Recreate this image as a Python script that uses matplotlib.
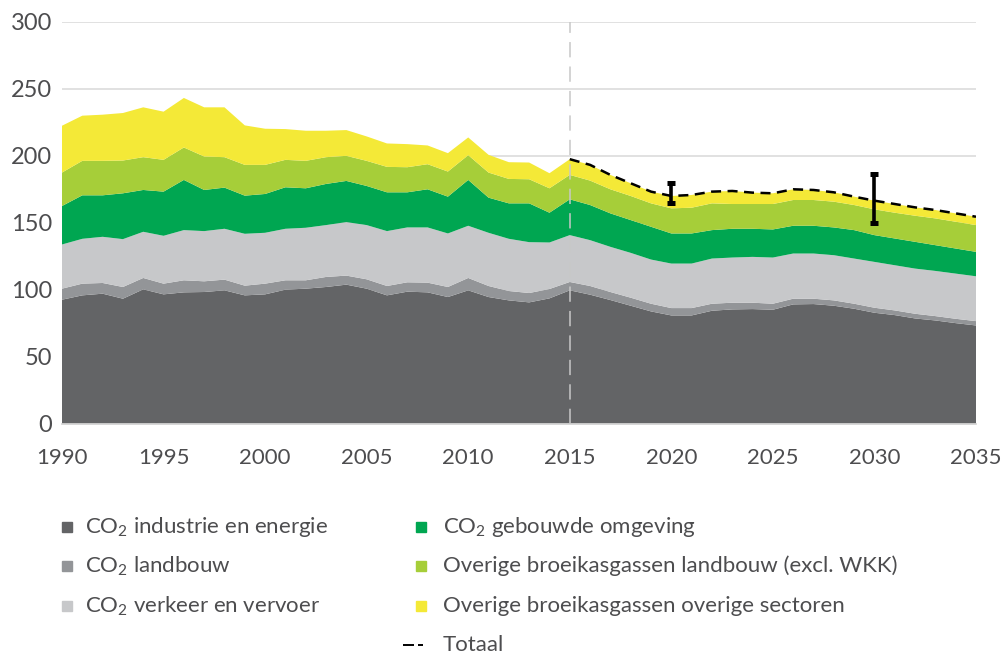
import matplotlib
matplotlib.use("Agg")
import matplotlib.pyplot as plt
from matplotlib.lines import Line2D
import numpy as np

plt.rcParams['font.family'] = ['Lato', 'DejaVu Sans']
plt.rcParams['mathtext.fontset'] = 'custom'
plt.rcParams['mathtext.rm'] = 'Lato'
plt.rcParams['mathtext.default'] = 'regular'

years = list(range(1990, 2036))

co2_industrie = [92.5, 95.75, 97, 93.25, 100.25, 96.5, 98, 98.25, 99.5, 95.75,
                 96.5, 100, 100.75, 102, 103.75, 100.75, 95.75, 98.5, 98, 94.5,
                 99.5, 94.5, 92, 90.5, 93.5, 99.5,
                 96.25, 92.25, 88, 83.75, 80.75, 80.75, 84.25, 85.25, 85.5, 85,
                 89, 89.25, 88, 85.75, 82.75, 81, 78.5, 77, 75, 73.25]
co2_landbouw = [8.25, 8.75, 8, 8.75, 8.5, 8, 9, 8, 8, 7.25,
                8, 7, 6.25, 7.5, 6.75, 7, 7, 7, 7.25, 7.5,
                9.25, 8.25, 7, 7, 7, 6.25,
                6.5, 6, 6, 5.75, 5.5, 5.5, 5.25, 5, 4.75, 4.5,
                4.25, 4, 4, 3.75, 3.75, 3.5, 3.5, 3.25, 3.25, 3.25]
co2_verkeer = [33, 33.5, 34.5, 35.75, 34.5, 35.75, 37.5, 37.5, 38, 38.75,
               38, 38.5, 39.25, 38.75, 40, 40.5, 41, 41, 41.25, 40,
               39, 39.75, 39, 38, 34.75, 35,
               34.25, 33.75, 33.5, 33, 33.25, 33.25, 33.75, 33.75, 34.25, 34.5,
               33.75, 33.75, 33.75, 33.75, 34.25, 33.75, 33.75, 33.75, 33.75, 33.5]
co2_gebouwd = [28.75, 32.5, 31, 34.25, 31.25, 33, 37.5, 30.75, 30.75, 28.5,
               29, 31, 29.5, 30.75, 30.75, 29.25, 29, 26.25, 28.5, 27.5,
               34.25, 26.25, 26.5, 29, 22.25, 26.75,
               26.25, 25, 24.5, 24.5, 22.5, 22.5, 21.25, 21.5, 21, 21,
               20.75, 20.75, 20.75, 21.25, 20, 20, 20, 19.25, 18.75, 18.25]
overig_landbouw = [25, 25.75, 25.75, 24.5, 24.5, 23.75, 24.25, 25, 22.75, 23,
                   21.75, 20.5, 20.5, 20, 18.75, 18.75, 19, 18.75, 18.75, 18.75,
                   18.5, 18.75, 18.25, 18, 18.25, 18.25,
                   18.25, 18, 18, 17.5, 18.75, 19.25, 20, 18.5, 18.5, 19,
                   19.25, 19.25, 19.25, 18.75, 19.25, 19.25, 19.5, 20, 20, 20]
overig_sectoren = [35, 33.75, 34.5, 35.5, 37.25, 36, 37, 36.75, 37.25, 29.5,
                   27, 23, 22.5, 19.75, 19.25, 18.25, 17.5, 17.25, 14, 13.75,
                   13.25, 13.25, 12.5, 12.5, 11.25, 11.75,
                   11.75, 10.75, 9.5, 8.75, 9.25, 9.5, 8.75, 9.75, 8.5, 8,
                   8, 7.5, 7, 6.25, 6.5, 6.5, 6.25, 6.25, 6.25, 6.25]

totaal_start = 2015
err_years = [2020, 2030]
err_low = [164.5, 149.5]
err_high = [179.5, 186.5]

labels = ['CO$_2$ industrie en energie', 'CO$_2$ landbouw', 'CO$_2$ verkeer en vervoer',
          'CO$_2$ gebouwde omgeving', 'Overige broeikasgassen landbouw (excl. WKK)',
          'Overige broeikasgassen overige sectoren']
colors = ['#636466', '#939598', '#c7c8ca', '#00a651', '#a6ce39', '#f4e937']
yticks = [0, 50, 100, 150, 200, 250, 300]
xticks = [1990, 1995, 2000, 2005, 2010, 2015, 2020, 2025, 2030, 2035]

txt = '#4d4d4f'
W, H = 1001, 656
fig = plt.figure(figsize=(W / 100, H / 100), dpi=100)
ax = fig.add_axes([62 / W, 1 - 423.5 / H, (976 - 62) / W, (423.5 - 22) / H])

series = [co2_industrie, co2_landbouw, co2_verkeer, co2_gebouwd, overig_landbouw, overig_sectoren]
ax.stackplot(years, *series, colors=colors, linewidth=0, zorder=2)

tot = np.sum(np.array(series), axis=0)
yr = np.array(years)
m = yr >= totaal_start
ax.plot(yr[m], tot[m], color='black', lw=1.8, ls=(0, (4, 2.6)), zorder=4)

ax.axvline(2015, color='#c8c8c8', lw=1.1, ls=(0, (10, 6)), zorder=3)

lo = np.array(err_low)
hi = np.array(err_high)
ax.errorbar(err_years, lo, yerr=[np.zeros_like(lo), hi - lo], fmt='none',
            ecolor='black', elinewidth=2.6, capsize=2.6, capthick=3.6, zorder=5)

ax.set_xlim(1990, 2035)
ax.set_ylim(0, 300)
ax.set_yticks(yticks)
ax.set_xticks(xticks)
ax.grid(axis='y', color='#d9d9d9', lw=1.1, zorder=0)
ax.set_axisbelow(True)
for s in ['top', 'right', 'left']:
    ax.spines[s].set_visible(False)
ax.spines['bottom'].set_color('#d0d0d0')
ax.spines['bottom'].set_linewidth(1.2)
ax.tick_params(axis='both', length=0, colors=txt)
ax.tick_params(axis='y', pad=7, labelsize=17)
ax.tick_params(axis='x', pad=18, labelsize=16)

# legend (manual layout)
def fy(y):
    return 1 - y / H

fs = 16
rows = [527, 566, 606, 645]
col1 = [(0, 0), (1, 1), (2, 2)]
col2 = [(3, 0), (4, 1), (5, 2)]
for idx, r in col1:
    fig.add_artist(Line2D([67 / W], [fy(rows[r])], marker='s', ls='none', color=colors[idx],
                          markersize=7, transform=fig.transFigure))
    fig.text(85 / W, fy(rows[r]), labels[idx], fontsize=fs, color=txt, va='center', ha='left')
for idx, r in col2:
    fig.add_artist(Line2D([421 / W], [fy(rows[r])], marker='s', ls='none', color=colors[idx],
                          markersize=7, transform=fig.transFigure))
    fig.text(443 / W, fy(rows[r]), labels[idx], fontsize=fs, color=txt, va='center', ha='left')
fig.add_artist(Line2D([403 / W, 414 / W], [fy(rows[3]), fy(rows[3])], color='black', lw=1.4,
                      solid_capstyle='butt', transform=fig.transFigure))
fig.add_artist(Line2D([418 / W, 423 / W], [fy(rows[3]), fy(rows[3])], color='black', lw=1.4,
                      solid_capstyle='butt', transform=fig.transFigure))
fig.text(443 / W, fy(rows[3]), 'Totaal', fontsize=fs, color=txt, va='center', ha='left')

fig.savefig('out.png', dpi=100)
